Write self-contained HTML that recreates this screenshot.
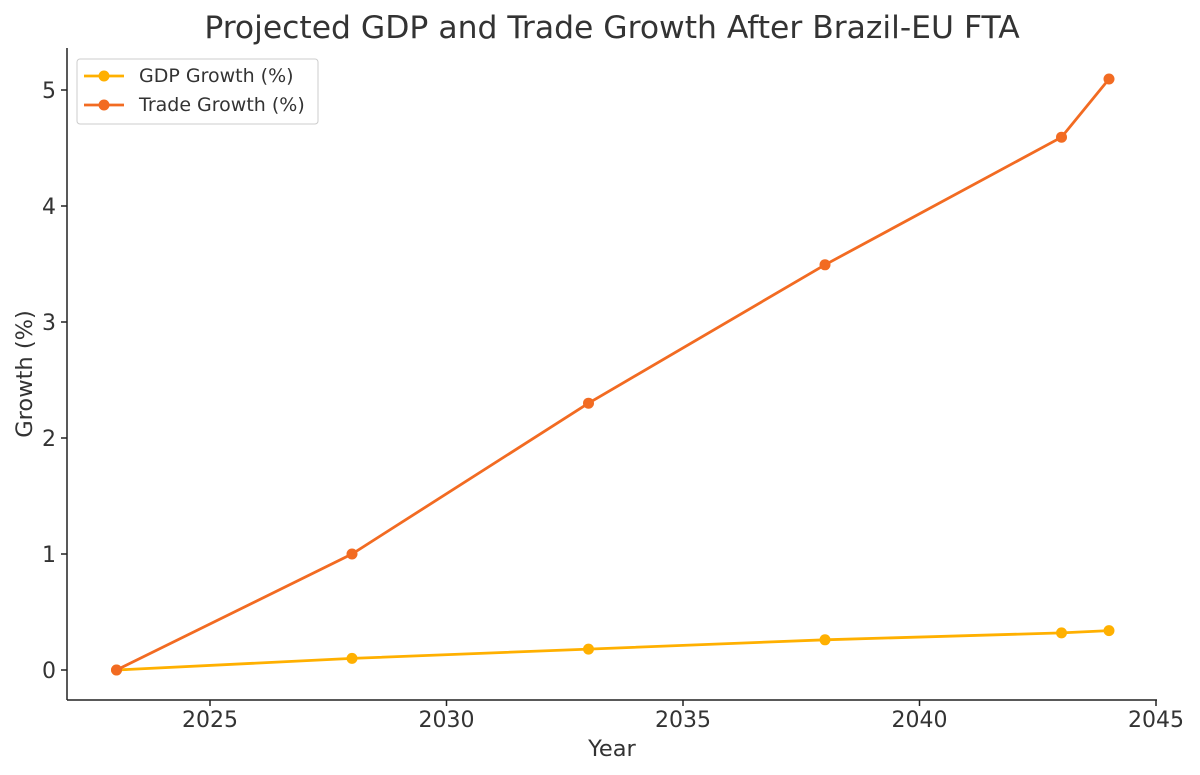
<!DOCTYPE html>
<html><head><meta charset="utf-8"><style>body{margin:0;background:#fff}svg{display:block}text{font-family:"DejaVu Sans","Liberation Sans",sans-serif;fill:#333}</style></head>
<body>
<svg width="1200" height="775" viewBox="0 0 1200 775">
<text x="612" y="38" font-size="31.4" text-anchor="middle">Projected GDP and Trade Growth After Brazil-EU FTA</text>
<g stroke="#222" stroke-width="1.5" fill="none">
<line x1="67" y1="48" x2="67" y2="700"/>
<line x1="67" y1="700" x2="1157" y2="700"/>
<line x1="210" y1="700" x2="210" y2="706"/><line x1="446.5" y1="700" x2="446.5" y2="706"/><line x1="683" y1="700" x2="683" y2="706"/><line x1="919.5" y1="700" x2="919.5" y2="706"/><line x1="1156" y1="700" x2="1156" y2="706"/>
<line x1="61" y1="670" x2="67" y2="670"/><line x1="61" y1="554" x2="67" y2="554"/><line x1="61" y1="438" x2="67" y2="438"/><line x1="61" y1="322" x2="67" y2="322"/><line x1="61" y1="206" x2="67" y2="206"/><line x1="61" y1="90" x2="67" y2="90"/>
</g>
<g font-size="22" text-anchor="middle">
<text x="210" y="727">2025</text><text x="446.5" y="727">2030</text><text x="683" y="727">2035</text><text x="919.5" y="727">2040</text><text x="1156" y="727">2045</text>
</g>
<g font-size="22" text-anchor="end">
<text x="56" y="678">0</text><text x="56" y="562">1</text><text x="56" y="446">2</text><text x="56" y="330">3</text><text x="56" y="214">4</text><text x="56" y="98">5</text>
</g>
<text x="612" y="756" font-size="22.5" text-anchor="middle">Year</text>
<text transform="translate(32,374) rotate(-90)" font-size="22.5" text-anchor="middle">Growth (%)</text>
<polyline fill="none" stroke="#FFB000" stroke-width="2.8" points="116.5,670 352,658.4 588.5,649.1 825,639.8 1061.5,632.9 1109,630.6"/>
<g fill="#FFB000"><circle cx="116.5" cy="670" r="5.5"/><circle cx="352" cy="658.4" r="5.5"/><circle cx="588.5" cy="649.1" r="5.5"/><circle cx="825" cy="639.8" r="5.5"/><circle cx="1061.5" cy="632.9" r="5.5"/><circle cx="1109" cy="630.6" r="5.5"/></g>
<polyline fill="none" stroke="#F26B22" stroke-width="2.8" points="116.5,670 352,554 588.5,403.2 825,264.8 1061.5,137.2 1109,79"/>
<g fill="#F26B22"><circle cx="116.5" cy="670" r="5.5"/><circle cx="352" cy="554" r="5.5"/><circle cx="588.5" cy="403.2" r="5.5"/><circle cx="825" cy="264.8" r="5.5"/><circle cx="1061.5" cy="137.2" r="5.5"/><circle cx="1109" cy="79" r="5.5"/></g>
<rect x="77" y="59" width="241" height="65" rx="3" fill="#fff" stroke="#ccc"/>
<line x1="84" y1="76" x2="124" y2="76" stroke="#FFB000" stroke-width="2.8"/><circle cx="104" cy="76" r="5.5" fill="#FFB000"/>
<line x1="84" y1="105" x2="124" y2="105" stroke="#F26B22" stroke-width="2.8"/><circle cx="104" cy="105" r="5.5" fill="#F26B22"/>
<text x="139" y="82" font-size="19">GDP Growth (%)</text>
<text x="139" y="111" font-size="19">Trade Growth (%)</text>
</svg>
</body></html>
